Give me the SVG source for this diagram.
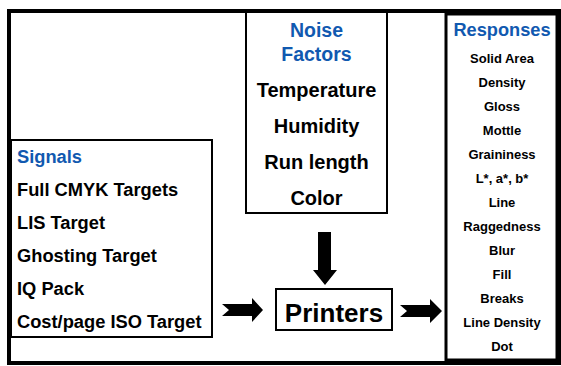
<svg xmlns="http://www.w3.org/2000/svg" width="561" height="366" viewBox="0 0 561 366">
<style>
.box{fill:#fff;stroke:#000;stroke-width:2}
.h{font-family:"Liberation Sans",Arial,sans-serif;font-weight:bold;fill:#1159B0}
.t{font-family:"Liberation Sans",Arial,sans-serif;font-weight:bold;fill:#000}
.arr{fill:#000}
</style>
<rect width="561" height="366" fill="#fff"/>
<rect id="frame" x="9" y="11" width="550" height="352" fill="none" stroke="#000" stroke-width="4"/>
<g id="noise">
<rect class="box" x="246" y="12" width="141" height="201"/>
<text class="h" font-size="19.5" text-anchor="middle" x="316.5" y="37">Noise</text>
<text class="h" font-size="19.5" text-anchor="middle" x="316.5" y="61">Factors</text>
<text class="t" font-size="20" text-anchor="middle" x="316.5" y="97">Temperature</text>
<text class="t" font-size="20" text-anchor="middle" x="316.5" y="133">Humidity</text>
<text class="t" font-size="20" text-anchor="middle" x="316.5" y="169">Run length</text>
<text class="t" font-size="20" text-anchor="middle" x="316.5" y="205">Color</text>
</g>
<g id="signals">
<rect class="box" x="11" y="140" width="201" height="197"/>
<text class="h" font-size="18.3" x="17" y="163">Signals</text>
<text class="t" font-size="18.3" x="17" y="196">Full CMYK Targets</text>
<text class="t" font-size="18.3" x="17" y="229">LIS Target</text>
<text class="t" font-size="18.3" x="17" y="262">Ghosting Target</text>
<text class="t" font-size="18.3" x="17" y="295">IQ Pack</text>
<text class="t" font-size="18.3" x="17" y="328">Cost/page ISO Target</text>
</g>
<g id="printers">
<rect class="box" x="276" y="289" width="116" height="41"/>
<text class="t" font-size="26" text-anchor="middle" x="334" y="322">Printers</text>
</g>
<g id="responses">
<rect x="446" y="14" width="111" height="346" fill="#fff" stroke="#000" stroke-width="3"/>
<text class="h" font-size="18.2" text-anchor="middle" x="502" y="36">Responses</text>
<g class="t" font-size="13" text-anchor="middle">
<text x="502" y="63">Solid Area</text>
<text x="502" y="87">Density</text>
<text x="502" y="111">Gloss</text>
<text x="502" y="135">Mottle</text>
<text x="502" y="159">Graininess</text>
<text x="502" y="183">L*, a*, b*</text>
<text x="502" y="207">Line</text>
<text x="502" y="231">Raggedness</text>
<text x="502" y="255">Blur</text>
<text x="502" y="279">Fill</text>
<text x="502" y="303">Breaks</text>
<text x="502" y="327">Line Density</text>
<text x="502" y="351">Dot</text>
</g>
</g>
<g id="connectors">
<polygon class="arr" points="318,232 331,232 331,270 337,270 325,285 313,270 318,270"/>
<polygon class="arr" points="222,304 252,304 252,298 263,310 252,322 252,316 222,316 229,310"/>
<polygon class="arr" points="400,305 430,305 430,299 442,311 430,323 430,317 400,317 407,311"/>
</g>
</svg>
